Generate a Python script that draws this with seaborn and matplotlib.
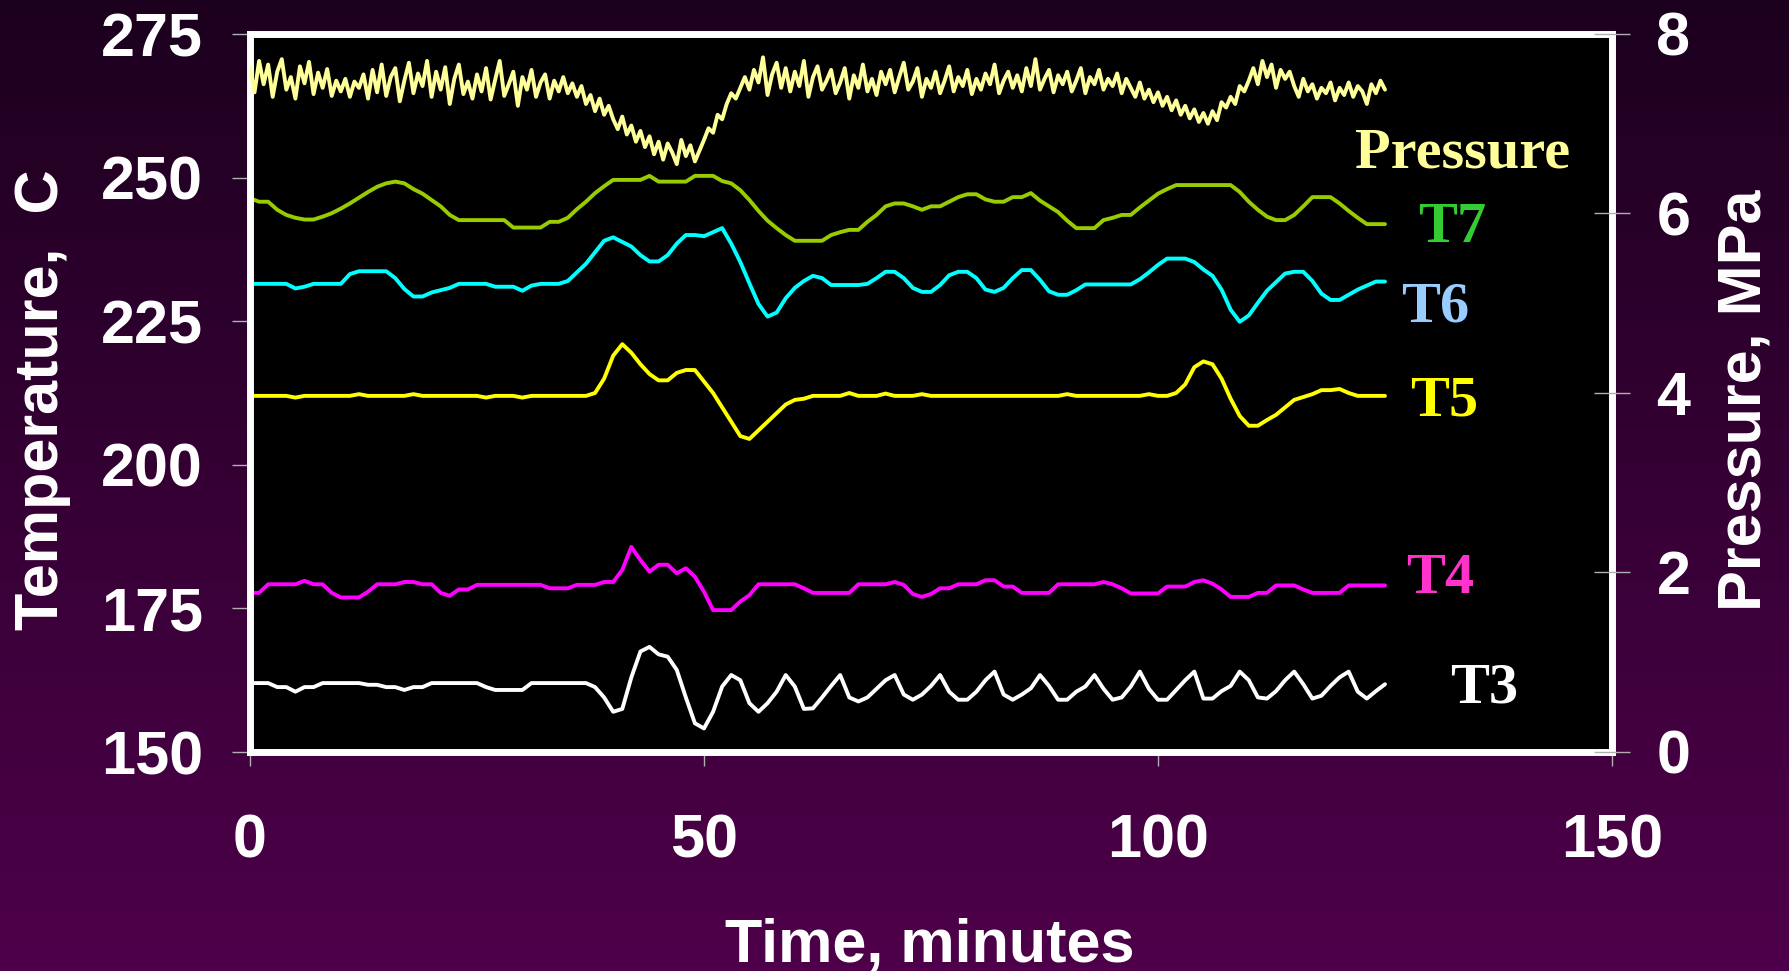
import numpy as np
import pandas as pd
import matplotlib
matplotlib.use("Agg")
import matplotlib.pyplot as plt
import seaborn as sns

# time axis, minutes (one reading per minute for temperatures)
minutes = list(range(126))
# pressure is logged twice per minute
p_minutes = [i * 0.5 for i in range(251)]

t7 = [246.4, 245.8, 245.8, 244.4, 243.5, 243.0, 242.7, 242.7, 243.2, 243.8,
      244.6, 245.5, 246.5, 247.5, 248.4, 249.0, 249.3, 249.0, 248.0, 247.2,
      246.1, 245.0, 243.5, 242.6, 242.6, 242.6, 242.6, 242.6, 242.6, 241.3,
      241.3, 241.3, 241.3, 242.3, 242.3, 243.0, 244.5, 245.8, 247.3, 248.5,
      249.6, 249.6, 249.6, 249.6, 250.3, 249.3, 249.3, 249.3, 249.3, 250.3,
      250.3, 250.3, 249.4, 249.0, 247.8, 246.1, 244.2, 242.5, 241.2, 240.0,
      239.0, 239.0, 239.0, 239.0, 240.0, 240.5, 240.9, 240.9, 242.3, 243.5,
      245.0, 245.5, 245.5, 245.0, 244.4, 245.0, 245.0, 245.8, 246.6, 247.1,
      247.1, 246.2, 245.8, 245.8, 246.6, 246.6, 247.3, 246.0, 245.0, 244.0,
      242.5, 241.2, 241.2, 241.2, 242.6, 243.0, 243.5, 243.5, 244.8, 246.0,
      247.2, 248.0, 248.7, 248.7, 248.7, 248.7, 248.7, 248.7, 248.7, 247.5,
      245.8, 244.4, 243.2, 242.6, 242.6, 243.5, 245.0, 246.6, 246.6, 246.6,
      245.5, 244.2, 243.0, 241.9, 241.9, 241.9]

t6 = [231.5, 231.5, 231.5, 231.5, 231.5, 230.7, 231.0, 231.5, 231.5, 231.5,
      231.5, 233.2, 233.7, 233.7, 233.7, 233.7, 232.5, 230.6, 229.3, 229.3,
      230.0, 230.4, 230.8, 231.5, 231.5, 231.5, 231.5, 231.0, 231.0, 231.0,
      230.3, 231.2, 231.5, 231.5, 231.5, 232.0, 233.5, 235.0, 237.0, 239.0,
      239.6, 238.8, 238.0, 236.5, 235.4, 235.4, 236.5, 238.5, 240.0, 240.0,
      239.8, 240.5, 241.2, 238.5, 235.3, 231.6, 228.0, 225.8, 226.5, 229.0,
      230.8, 232.0, 232.9, 232.5, 231.3, 231.3, 231.3, 231.3, 231.5, 232.5,
      233.6, 233.6, 232.5, 230.8, 230.1, 230.1, 231.3, 233.0, 233.6, 233.6,
      232.5, 230.5, 230.1, 230.8, 232.5, 233.9, 233.9, 232.2, 230.2, 229.6,
      229.6, 230.4, 231.4, 231.4, 231.4, 231.4, 231.4, 231.4, 232.3, 233.5,
      234.8, 235.9, 235.9, 235.9, 235.3, 234.0, 232.9, 230.5, 227.0, 224.9,
      226.0, 228.2, 230.3, 231.8, 233.3, 233.6, 233.6, 232.0, 229.8, 228.7,
      228.7, 229.6, 230.5, 231.2, 231.9, 231.9]

t5 = [212.0, 212.0, 212.0, 212.0, 212.0, 211.7, 212.0, 212.0, 212.0, 212.0,
      212.0, 212.0, 212.3, 212.0, 212.0, 212.0, 212.0, 212.0, 212.3, 212.0,
      212.0, 212.0, 212.0, 212.0, 212.0, 212.0, 211.7, 212.0, 212.0, 212.0,
      211.7, 212.0, 212.0, 212.0, 212.0, 212.0, 212.0, 212.0, 212.5, 215.0,
      219.0, 221.0, 219.5, 217.5, 215.8, 214.7, 214.7, 216.0, 216.5, 216.5,
      214.5, 212.5, 210.0, 207.5, 205.0, 204.5, 206.0, 207.5, 209.0, 210.5,
      211.3, 211.5, 212.0, 212.0, 212.0, 212.0, 212.5, 212.0, 212.0, 212.0,
      212.4, 212.0, 212.0, 212.0, 212.3, 212.0, 212.0, 212.0, 212.0, 212.0,
      212.0, 212.0, 212.0, 212.0, 212.0, 212.0, 212.0, 212.0, 212.0, 212.0,
      212.3, 212.0, 212.0, 212.0, 212.0, 212.0, 212.0, 212.0, 212.0, 212.3,
      212.0, 212.0, 212.5, 214.0, 217.0, 218.0, 217.5, 215.0, 211.5, 208.5,
      206.8, 206.8, 207.8, 208.7, 210.0, 211.3, 211.8, 212.3, 213.0, 213.0,
      213.2, 212.5, 212.0, 212.0, 212.0, 212.0]

t4 = [177.7, 177.7, 179.2, 179.2, 179.2, 179.2, 179.8, 179.2, 179.2, 177.7,
      176.9, 176.9, 176.9, 177.9, 179.2, 179.2, 179.2, 179.6, 179.6, 179.2,
      179.2, 177.7, 177.2, 178.3, 178.3, 179.1, 179.1, 179.1, 179.1, 179.1,
      179.1, 179.1, 179.1, 178.5, 178.5, 178.5, 179.1, 179.1, 179.1, 179.6,
      179.6, 181.7, 185.7, 183.4, 181.4, 182.6, 182.6, 181.1, 182.0, 180.5,
      177.9, 174.7, 174.7, 174.7, 176.2, 177.3, 179.2, 179.2, 179.2, 179.2,
      179.2, 178.5, 177.7, 177.7, 177.7, 177.7, 177.7, 179.2, 179.2, 179.2,
      179.2, 179.6, 179.1, 177.5, 177.0, 177.5, 178.5, 178.5, 179.2, 179.2,
      179.2, 179.9, 179.9, 178.8, 178.8, 177.7, 177.7, 177.7, 177.7, 179.2,
      179.2, 179.2, 179.2, 179.2, 179.6, 179.2, 178.5, 177.6, 177.6, 177.6,
      177.6, 178.8, 178.8, 178.8, 179.6, 179.9, 179.3, 178.3, 177.0, 177.0,
      177.0, 177.7, 177.7, 179.0, 179.0, 179.0, 178.3, 177.7, 177.7, 177.7,
      177.7, 179.0, 179.0, 179.0, 179.0, 179.0]

t3 = [162.0, 162.0, 162.0, 161.3, 161.3, 160.5, 161.3, 161.3, 162.0, 162.0,
      162.0, 162.0, 162.0, 161.7, 161.7, 161.3, 161.3, 160.8, 161.3, 161.3,
      162.0, 162.0, 162.0, 162.0, 162.0, 162.0, 161.3, 160.8, 160.8, 160.8,
      160.8, 162.0, 162.0, 162.0, 162.0, 162.0, 162.0, 162.0, 161.3, 159.5,
      157.0, 157.5, 163.0, 167.5, 168.3, 167.0, 166.6, 164.3, 159.5, 155.0,
      154.1, 157.0, 161.4, 163.4, 162.5, 158.5, 157.0, 158.5, 160.5, 163.4,
      161.4, 157.5, 157.6, 159.5, 161.5, 163.4, 159.5, 158.8, 159.5, 161.0,
      162.5, 163.4, 160.0, 159.1, 160.0, 161.5, 163.4, 160.5, 159.1, 159.1,
      160.5, 162.5, 164.0, 160.0, 159.1, 160.0, 161.1, 163.4, 161.5, 159.1,
      159.1, 160.5, 161.4, 163.4, 161.0, 159.1, 159.5, 161.4, 164.0, 161.0,
      159.1, 159.1, 160.8, 162.5, 164.0, 159.3, 159.3, 160.6, 161.5, 164.0,
      162.5, 159.5, 159.3, 160.6, 162.5, 164.0, 161.8, 159.3, 159.8, 161.5,
      163.0, 164.0, 160.5, 159.3, 160.6, 161.8]

pressure = [7.62, 7.35, 7.70, 7.44, 7.66, 7.30, 7.58, 7.72, 7.38, 7.52,
            7.28, 7.64, 7.45, 7.69, 7.33, 7.57, 7.40, 7.61, 7.31, 7.48,
            7.36, 7.50, 7.30, 7.47, 7.40, 7.55, 7.28, 7.60, 7.35, 7.66,
            7.31, 7.52, 7.62, 7.25, 7.48, 7.68, 7.34, 7.56, 7.42, 7.70,
            7.30, 7.58, 7.38, 7.63, 7.22, 7.50, 7.66, 7.33, 7.47, 7.28,
            7.55, 7.36, 7.62, 7.27, 7.49, 7.70, 7.31, 7.44, 7.58, 7.20,
            7.52, 7.38, 7.60, 7.30, 7.46, 7.55, 7.28, 7.48, 7.36, 7.52,
            7.34, 7.45, 7.30, 7.42, 7.22, 7.32, 7.14, 7.28, 7.10, 7.20,
            7.05, 6.94, 7.08, 6.88, 6.98, 6.80, 6.92, 6.74, 6.86, 6.66,
            6.80, 6.60, 6.78, 6.68, 6.55, 6.82, 6.64, 6.76, 6.58, 6.70,
            6.82, 6.95, 6.90, 7.10, 7.05, 7.22, 7.34, 7.28, 7.40, 7.52,
            7.38, 7.60, 7.46, 7.74, 7.32, 7.55, 7.68, 7.40, 7.62, 7.36,
            7.58, 7.42, 7.70, 7.30, 7.52, 7.64, 7.38, 7.48, 7.60, 7.34,
            7.46, 7.62, 7.28, 7.54, 7.40, 7.66, 7.36, 7.50, 7.32, 7.58,
            7.44, 7.60, 7.35, 7.52, 7.68, 7.38, 7.47, 7.62, 7.30, 7.50,
            7.40, 7.58, 7.34, 7.48, 7.64, 7.36, 7.52, 7.42, 7.60, 7.33,
            7.50, 7.38, 7.56, 7.44, 7.66, 7.34, 7.48, 7.58, 7.40, 7.54,
            7.36, 7.62, 7.42, 7.72, 7.38, 7.50, 7.60, 7.35, 7.54, 7.44,
            7.58, 7.36, 7.48, 7.62, 7.34, 7.52, 7.44, 7.60, 7.38, 7.50,
            7.42, 7.56, 7.34, 7.50, 7.40, 7.30, 7.46, 7.28, 7.38, 7.24,
            7.35, 7.20, 7.30, 7.15, 7.26, 7.10, 7.20, 7.06, 7.16, 7.02,
            7.12, 7.00, 7.14, 7.04, 7.24, 7.18, 7.30, 7.22, 7.42, 7.36,
            7.48, 7.62, 7.44, 7.70, 7.52, 7.66, 7.40, 7.60, 7.50, 7.58,
            7.42, 7.30, 7.50, 7.36, 7.44, 7.28, 7.40, 7.34, 7.46, 7.26,
            7.40, 7.32, 7.46, 7.30, 7.42, 7.36, 7.22, 7.44, 7.34, 7.48,
            7.38]

series_names = ["T7", "T6", "T5", "T4", "T3"]
series_colors = ["#99cc00", "#00ffff", "#ffff00", "#ff00ff", "#ffffff"]
label_colors = ["#33cc33", "#99ccff", "#ffff00", "#ff33cc", "#ffffff"]
# where each series name sits (minutes, deg C at baseline)
label_pos = [(128.6, 238.8), (126.8, 224.9), (127.8, 208.5), (127.3, 177.7), (132.2, 158.7)]
pressure_color = "#ffff99"

x_ticks = [0, 50, 100, 150]
t_ticks = [150, 175, 200, 225, 250, 275]
p_ticks = [0, 2, 4, 6, 8]


def main():
    sns.set_style("ticks")
    plt.rcParams["font.family"] = ["Liberation Sans", "DejaVu Sans"]
    plt.rcParams["font.weight"] = "bold"

    fig = plt.figure(figsize=(17.9, 9.71), dpi=100)

    # purple gradient backdrop
    bg = fig.add_axes([0, 0, 1, 1], zorder=-10)
    top = np.array([0x1c, 0x01, 0x1e]) / 255
    bot = np.array([0x4e, 0x00, 0x4a]) / 255
    grad = np.linspace(0, 1, 256)[:, None, None] * (bot - top) + top
    bg.imshow(grad, aspect="auto", extent=[0, 1, 0, 1])
    bg.axis("off")

    ax = fig.add_axes([250 / 1790, 219 / 971, 1362 / 1790, 718 / 971])
    ax.set_facecolor("black")
    ax2 = ax.twinx()

    df = pd.DataFrame({"minutes": minutes, "T7": t7, "T6": t6, "T5": t5, "T4": t4, "T3": t3})
    for name, col in zip(series_names, series_colors):
        sns.lineplot(data=df, x="minutes", y=name, color=col, lw=2.8,
                     ax=ax, legend=False)

    dp = pd.DataFrame({"minutes": p_minutes, "pressure": pressure})
    sns.lineplot(data=dp, x="minutes", y="pressure", color=pressure_color, lw=2.8,
                 ax=ax2, legend=False)

    ax.set_xlim(0, 150)
    ax.set_ylim(150, 275)
    ax2.set_ylim(0, 8)
    ax.set_xticks(x_ticks)
    ax.set_yticks(t_ticks)
    ax2.set_yticks(p_ticks)
    ax.grid(False)
    ax2.grid(False)

    for s in ax.spines.values():
        s.set_color("white")
        s.set_linewidth(5)
        s.set_visible(True)
    for s in ax2.spines.values():
        s.set_visible(False)

    tick_font = dict(fontsize=44, fontweight="bold", color="white")
    ax.tick_params(axis="x", direction="out", length=10, width=1, color="#b0b0b0",
                   pad=34, labelsize=44, labelcolor="white")
    ax.tick_params(axis="y", direction="out", length=13, width=1, color="#b0b0b0",
                   pad=21, labelsize=44, labelcolor="white")
    ax2.tick_params(axis="y", direction="inout", length=26, width=1, color="#b0b0b0",
                    pad=19, labelsize=44, labelcolor="white")
    for lab in ax.get_xticklabels() + ax.get_yticklabels() + ax2.get_yticklabels():
        lab.set_fontweight("bold")

    ax.set_xlabel("Time, minutes", **tick_font)
    ax.xaxis.set_label_coords(0.499, -0.27)
    ax.xaxis.label.set_va("center")
    ax.set_ylabel("Temperature,  C", **tick_font)
    ax.yaxis.set_label_coords(-0.152, 0.49)
    ax.yaxis.label.set_va("center")
    ax2.set_ylabel("Pressure, MPa", **tick_font)
    ax2.yaxis.set_label_coords(1.0977, 0.49)
    ax2.yaxis.label.set_va("center")
    ax2.yaxis.label.set_rotation(90)

    serif = ["Liberation Serif", "DejaVu Serif"]
    ax.text(121.7, 251.7, "Pressure", color=pressure_color, fontsize=42,
            fontweight="bold", family=serif, ha="left", va="baseline")
    for name, col, (xp, yp) in zip(series_names, label_colors, label_pos):
        ax.text(xp, yp, name, color=col, fontsize=42, fontweight="bold",
                family=serif, ha="left", va="baseline")

    fig.savefig("out.png", dpi=100)


if __name__ == "__main__":
    main()
